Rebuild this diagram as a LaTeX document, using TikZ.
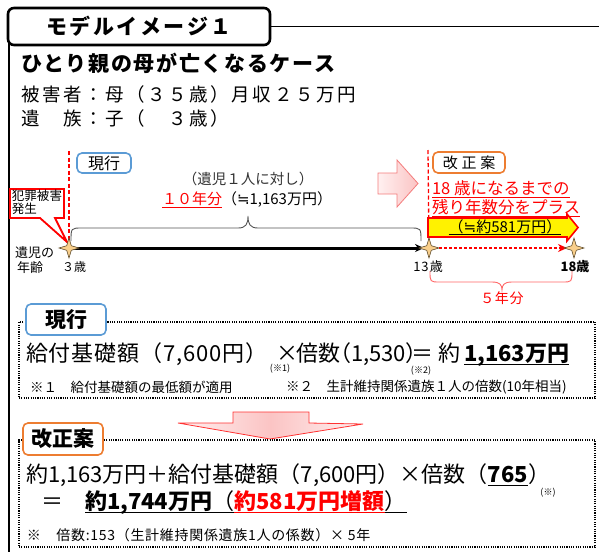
\documentclass[tikz,border=0pt]{standalone}
\usepackage{fontspec}
\setmainfont{Noto Sans CJK JP}
\newfontfamily\symf{DejaVu Sans}
\usetikzlibrary{arrows.meta}
\definecolor{tabBlue}{HTML}{5B9BD5}
\definecolor{tabOrange}{HTML}{ED7D31}
\definecolor{starFill}{HTML}{F9CF8B}
\definecolor{starLine}{HTML}{5E4B2B}
\definecolor{pinkLine}{HTML}{F47C7C}
\definecolor{pinkA}{HTML}{FFF0F0}
\definecolor{pinkB}{HTML}{FBC4C4}
\definecolor{braceGray}{HTML}{555555}
\definecolor{redBrace}{HTML}{FF6666}
\newcommand\fsz[1]{\fontsize{#1}{#1}\selectfont}
\newcommand\lsp[1]{\addfontfeature{LetterSpace=#1}}
\newcommand\apx{{\symf ≒}}
\newcommand\myul[2][0.06em]{\leavevmode\setbox0\hbox{#2}\rlap{\rule[-0.2em]{\wd0}{#1}}\box0}
\tikzset{
  starpic/.pic={\path[fill=starFill, draw=starLine, line width=0.6pt] (0,-10) -- (2.3,-2.3) -- (10,0) -- (2.3,2.3) -- (0,10) -- (-2.3,2.3) -- (-10,0) -- (-2.3,-2.3) -- cycle;},
  txt/.style={inner sep=0pt, outer sep=0pt},
  blueTab/.style={draw=tabBlue, line width=1.6pt, rounded corners=5pt, fill=white, inner sep=0pt},
  orangeTab/.style={draw=tabOrange, line width=1.6pt, rounded corners=5pt, fill=white, inner sep=0pt},
  dotbox/.style={draw=black, line width=1.1pt, dash pattern=on 1.1pt off 1.2pt, inner sep=0pt},
  reddash/.style={draw=red, line width=1.3pt, dash pattern=on 4pt off 2.5pt}
}
\begin{document}
\begin{tikzpicture}[x=1pt,y=-1pt]
\useasboundingbox (0,0) rectangle (599,552);
% frame
\coordinate (leftTop) at (9,40);
\coordinate (leftBot) at (9,552);
\draw[line width=1.8pt] (leftTop) -- (leftBot);
\node[draw=black, line width=2.6pt, rounded corners=6pt, fill=white, minimum width=262pt, minimum height=37pt, inner sep=0pt, font=\fsz{21}\bfseries\lsp{12}] (title) at (139,26.5) {モデルイメージ１};
\coordinate (topR) at (599,26.5);
\draw[line width=1.8pt] (title.east) -- (topR);
% header text
\node[txt, anchor=west, font=\fsz{21}\bfseries\lsp{8}] (case) at (21,63) {ひとり親の母が亡くなるケース};
\node[txt, anchor=west, font=\fsz{18.5}\lsp{14}] (victim) at (21,94) {被害者：母（３５歳）月収２５万円};
\node[txt, anchor=west, font=\fsz{18.5}\lsp{14}] (family) at (21,118) {遺　族：子（　３歳）};
% timeline coordinates
\coordinate (s3) at (69,248);
\coordinate (s13) at (429,248);
\coordinate (s18) at (574,248);
\coordinate (d1t) at (69,151);
\coordinate (d2t) at (428,150);
\draw[reddash] (d1t) -- (s3);
\draw[reddash] (d2t) -- (s13);
% current box
\node[blueTab, minimum width=54pt, minimum height=20pt, font=\fsz{16}] (curA) at (104,163) {現行};
\node[txt, font=\fsz{14.5}, text=black!80] (perChild) at (248,179) {（遺児１人に対し）};
\node[txt, anchor=west, font=\fsz{15}] (tenYears) at (162,200) {\textcolor{red}{\myul[0.06em]{１０年分}}（\apx 1,163万円）};
% brace top
\coordinate (bL) at (71,241);
\coordinate (bR) at (421,241);
\coordinate (bTip) at (248,216);
\draw[braceGray, line width=0.9pt] (bL) .. controls (71,228) .. (82,228) -- (238,228) .. controls (246,228) and (248,224) .. (bTip) .. controls (248,224) and (250,228) .. (258,228) -- (410,228) .. controls (421,228) .. (bR);
% callout
\path[draw=red, line width=1.8pt, fill=white, line join=miter] (10,189) -- (64,189) -- (64,218) -- (55,218) -- (67,242) -- (40,218) -- (10,218) -- cycle;
\node[txt, anchor=west, font=\fsz{12.5}] (crime1) at (12,196) {犯罪被害};
\node[txt, anchor=west, font=\fsz{12.5}] (crime2) at (12,209) {発生};
% pink right arrow
\path[draw=pinkLine, line width=0.8pt, left color=pinkA, right color=pinkB] (378,173) -- (397,173) -- (397,160) -- (418,183.5) -- (397,207) -- (397,194) -- (378,194) -- cycle;
% revision box
\node[orangeTab, minimum width=72pt, minimum height=21pt, font=\fsz{15}\lsp{25}] (revA) at (469,162.5) {改正案};
\node[txt, anchor=west, font=\fsz{16.5}, text=red] (plus1) at (432,189) {\myul[0.06em]{18 歳になるまでの}};
\node[txt, anchor=west, font=\fsz{16.5}, text=red] (plus2) at (432,208) {\myul[0.06em]{残り年数分をプラス}};
% yellow arrow
\path[draw=red, line width=1.6pt, fill=yellow] (428,218) -- (567,218) -- (567,214) -- (578,227.5) -- (567,241) -- (567,237) -- (428,237) -- cycle;
\node[txt, font=\fsz{15}] (amt) at (505,227.5) {\myul[0.07em]{（\apx 約581万円）}};
% timeline
\draw[line width=3pt, -{Stealth[length=9pt,width=8pt]}, shorten >=5pt] (s3) -- (s13);
\draw[red, line width=2.5pt, dash pattern=on 2.5pt off 2.5pt, -{Stealth[length=9pt,width=8pt]}, shorten >=7pt] (s13) -- (s18);
\pic at (s3) {starpic};
\pic at (s13) {starpic};
\pic at (s18) {starpic};
\node[txt, font=\fsz{12}] (age3) at (74,267) {３歳};
\node[txt, font=\fsz{13}\lsp{8}] (age13) at (428,267) {13歳};
\node[txt, font=\fsz{13}\bfseries] (age18) at (575,267) {18歳};
\node[txt, anchor=west, font=\fsz{13}] (ageL1) at (15,253) {遺児の};
\node[txt, anchor=west, font=\fsz{13}] (ageL2) at (17,268) {年齢};
% red brace
\coordinate (rbL) at (430,271);
\coordinate (rbR) at (572,271);
\coordinate (rbTip) at (502,290);
\draw[redBrace, line width=0.9pt] (rbL) .. controls (430,282) .. (440,282) -- (492,282) .. controls (500,282) and (502,285) .. (rbTip) .. controls (502,285) and (504,282) .. (512,282) -- (562,282) .. controls (572,282) .. (rbR);
\node[txt, font=\fsz{14}\lsp{5}, text=red] (five) at (502,298) {５年分};
% section 2
\node[dotbox, minimum width=576pt, minimum height=76pt] (boxA) at (307,360) {};
\node[blueTab, minimum width=80pt, minimum height=31pt, font=\fsz{21}\bfseries] (tabA) at (66,319.5) {現行};
\node[txt, anchor=base west, font=\fsz{22}\lsp{4}] (fA1) at (26,361) {給付基礎額（7,600円）};
\node[txt, anchor=base, font=\fsz{22}] (fA2) at (287,361) {×};
\node[txt, font=\fsz{9}] (fA3) at (280,369) {(※1)};
\node[txt, anchor=base west, font=\fsz{22}\addfontfeature{RawFeature=+palt}] (fA4) at (296,361) {倍数（1,530）};
\node[txt, anchor=base, font=\fsz{22}] (fA5) at (422,361) {＝};
\node[txt, font=\fsz{9}] (fA6) at (421,371) {(※2)};
\node[txt, anchor=base west, font=\fsz{22}] (fA7) at (438,361) {約};
\node[txt, anchor=base west, font=\fsz{22}\bfseries] (fA8) at (464,361) {\myul[0.07em]{1,163万円}};
\node[txt, anchor=west, font=\fsz{13.5}] (nA1) at (30,387) {※１　給付基礎額の最低額が適用};
\node[txt, anchor=west, font=\fsz{13.5}] (nA2) at (286,387) {※２　生計維持関係遺族１人の倍数(10年相当)};
% down arrow
\path[draw=red!80, line width=0.8pt, left color=pinkA, right color=pinkA, middle color=pinkB] (233,412) -- (309,412) -- (309,423) -- (363,424) -- (270,439) -- (178,423) -- (233,423) -- cycle;
% section 3
\node[dotbox, minimum width=576pt, minimum height=107pt] (boxB) at (307,493.5) {};
\node[orangeTab, minimum width=80pt, minimum height=32pt, font=\fsz{21}\bfseries] (tabRev) at (63,439) {改正案};
\node[txt, anchor=base west, font=\fsz{22}] (fB1) at (26,482) {約1,163万円＋給付基礎額（7,600円）×倍数（\myul[0.07em]{\textbf{765}}）};
\node[txt, font=\fsz{9}] (fB2) at (548,493) {(※)};
\node[txt, anchor=base, font=\fsz{22}] (fB3) at (52,509) {＝};
\node[txt, anchor=base west, font=\fsz{22}] (fB4) at (85,509) {\myul[0.07em]{\textbf{約1,744万円}（}\textcolor{red}{\myul[0.07em]{\textbf{約581万円増額}}}\myul[0.07em]{）}};
\node[txt, anchor=west, font=\fsz{14}\lsp{5}] (nB1) at (27,535) {※　倍数:153（生計維持関係遺族1人の係数）× 5年};
\end{tikzpicture}
\end{document}
